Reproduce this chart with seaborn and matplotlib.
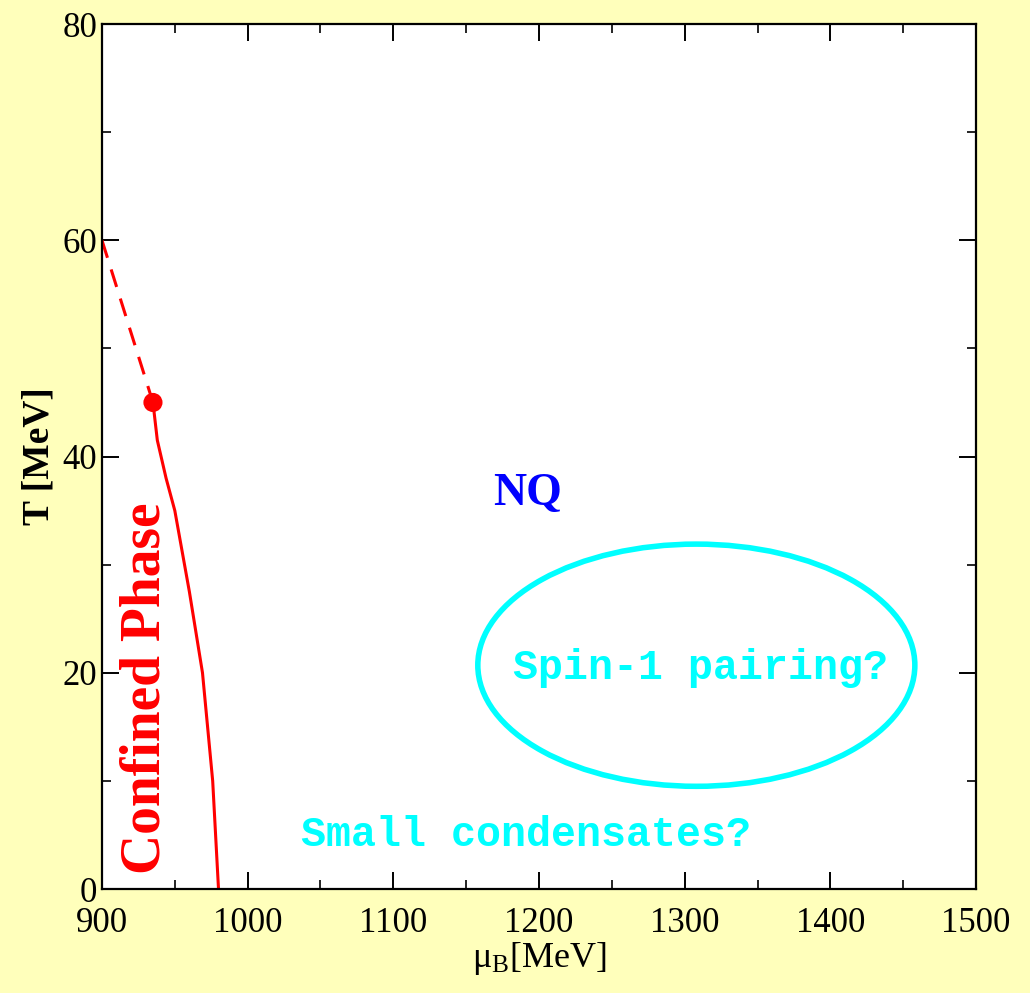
import numpy as np
import pandas as pd
import matplotlib
matplotlib.use("Agg")
import matplotlib.pyplot as plt
from matplotlib.patches import Ellipse
from matplotlib.ticker import MultipleLocator
import seaborn as sns

# Crossover (dashed) and first-order (solid) transition lines
mu_dashed = [900, 935]
T_dashed = [60, 45]
mu_solid = [935, 938, 944, 950, 960, 969, 976, 980]
T_solid = [45, 41.5, 38, 35, 27.5, 20, 10, 0]
# Critical end point
mu_cep = [935]
T_cep = [45]

# Region of possible spin-1 pairing: center, full width, full height
pairing_center = (1308, 20.7)
pairing_width = 300
pairing_height = 22.4

bg = "#FFFFBB"
sns.set_theme(style="ticks")
plt.rcParams["font.family"] = ["Liberation Serif", "DejaVu Serif"]

fig = plt.figure(figsize=(10.30, 9.93), dpi=100, facecolor=bg)
ax = fig.add_axes([0.099, 0.1047, 0.8486, 0.8711])
ax.set_facecolor("white")

dashed = pd.DataFrame({"mu": mu_dashed, "T": T_dashed})
solid = pd.DataFrame({"mu": mu_solid, "T": T_solid})
cep = pd.DataFrame({"mu": mu_cep, "T": T_cep})

sns.lineplot(data=dashed, x="mu", y="T", ax=ax, color="#FF0000", lw=2.2,
             linestyle=(0, (6, 4)), sort=False, estimator=None)
sns.lineplot(data=solid, x="mu", y="T", ax=ax, color="#FF0000", lw=2.2,
             sort=False, estimator=None)
sns.scatterplot(data=cep, x="mu", y="T", ax=ax, color="#FF0000", s=190,
                marker="o", edgecolor="none", zorder=5)

ax.add_patch(Ellipse(pairing_center, pairing_width, pairing_height,
                     fill=False, edgecolor="#00FFFF", lw=4))

ax.text(930, 18.6, "Confined Phase", rotation=90, color="#FF0000",
        fontsize=40, fontweight="bold", ha="center", va="center")
ax.text(1192, 36.5, "NQ", color="#0000FF", fontsize=33, fontweight="bold",
        ha="center", va="center")
mono = ["Liberation Mono", "DejaVu Sans Mono"]
ax.text(1311, 20.4, "Spin-1 pairing?", color="#00FFFF", fontsize=30,
        fontweight="bold", family=mono, ha="center", va="center")
ax.text(1191, 5.0, "Small condensates?", color="#00FFFF", fontsize=30,
        fontweight="bold", family=mono, ha="center", va="center")

ax.set_xlim(900, 1500)
ax.set_ylim(0, 80)
ax.xaxis.set_major_locator(MultipleLocator(100))
ax.xaxis.set_minor_locator(MultipleLocator(50))
ax.yaxis.set_major_locator(MultipleLocator(20))
ax.yaxis.set_minor_locator(MultipleLocator(10))
ax.tick_params(which="both", direction="in", top=True, right=True,
               colors="black", labelsize=25)
ax.tick_params(axis="x", which="major", pad=13)
ax.tick_params(which="major", length=12, width=1.4)
ax.tick_params(which="minor", length=6.5, width=1.2)
for s in ax.spines.values():
    s.set_linewidth(1.6)
    s.set_color("black")

ax.set_xlabel(r"$\mathregular{\mu_B}$[MeV]", fontsize=26, labelpad=0,
              color="black")
ax.set_ylabel("T [MeV]", fontsize=27, fontweight="bold", labelpad=4,
              color="black")

fig.savefig("out.png", dpi=100, facecolor=bg)
